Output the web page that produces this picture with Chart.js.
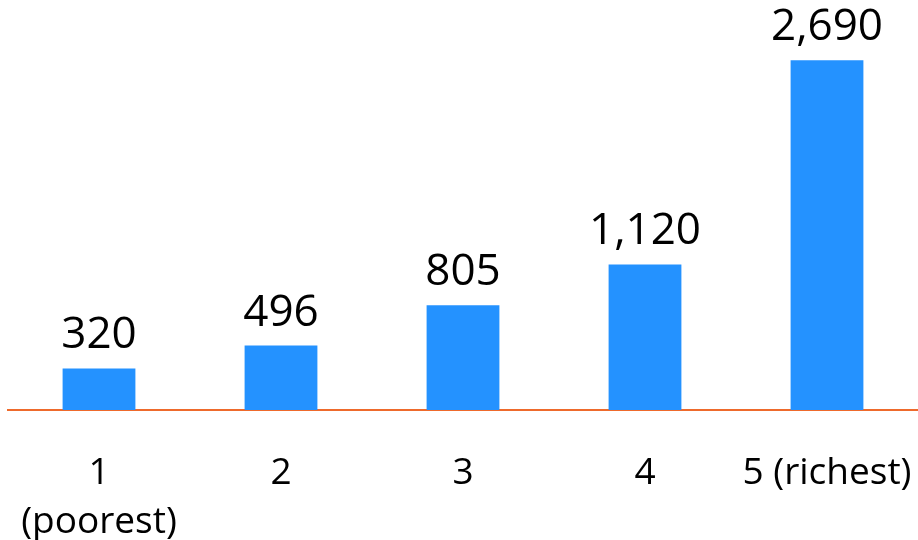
<!DOCTYPE html>
<html>
<head>
<meta charset="utf-8">
<script src="https://cdn.jsdelivr.net/npm/chart.js@4"></script>
<style>
  html, body { margin: 0; padding: 0; background: #fff; }
  #wrap { width: 918px; height: 540px; position: relative; }
</style>
</head>
<body>
<div id="wrap"><canvas id="chart"></canvas></div>
<script>
// quintile labels and values
const categories = [['1', '(poorest)'], '2', '3', '4', '5 (richest)'];
const values = [320, 496, 805, 1120, 2690];
const valueLabels = ['320', '496', '805', '1,120', '2,690'];

const FONT = "'Open Sans', 'Liberation Sans', sans-serif";

// draws the number above each bar, using the bar element positions
const barValuePlugin = {
    id: 'barValues',
    afterDatasetsDraw(chart) {
        const ctx = chart.ctx;
        const meta = chart.getDatasetMeta(0);
        ctx.save();
        ctx.font = '44px ' + FONT;
        ctx.fillStyle = '#000';
        ctx.textAlign = 'center';
        ctx.textBaseline = 'alphabetic';
        meta.data.forEach((bar, i) => {
            ctx.fillText(valueLabels[i], bar.x, bar.y - 20);
        });
        ctx.restore();
    }
};

new Chart(document.getElementById('chart'), {
    type: 'bar',
    data: {
        labels: categories,
        datasets: [{
            data: values,
            backgroundColor: '#2492FF',
            borderWidth: 0,
            barPercentage: 0.4,
            categoryPercentage: 1
        }]
    },
    options: {
        responsive: true,
        maintainAspectRatio: false,
        animation: false,
        layout: { padding: { left: 8, right: 0, top: 20, bottom: 0 } },
        plugins: { legend: { display: false }, tooltip: { enabled: false } },
        scales: {
            x: {
                grid: { display: false },
                border: { display: true, color: '#EE6A2C', width: 2 },
                ticks: {
                    color: '#000',
                    font: { family: FONT, size: 37, lineHeight: 1.35 },
                    padding: 30,
                    maxRotation: 0,
                    autoSkip: false
                },
                afterFit(scale) {
                    // labels may run past the plot edges, like the original
                    scale.height = 130;
                    scale.paddingLeft = 0;
                    scale.paddingRight = 0;
                }
            },
            y: {
                display: false,
                min: 0,
                max: 3000
            }
        }
    },
    plugins: [barValuePlugin]
});
</script>
</body>
</html>
